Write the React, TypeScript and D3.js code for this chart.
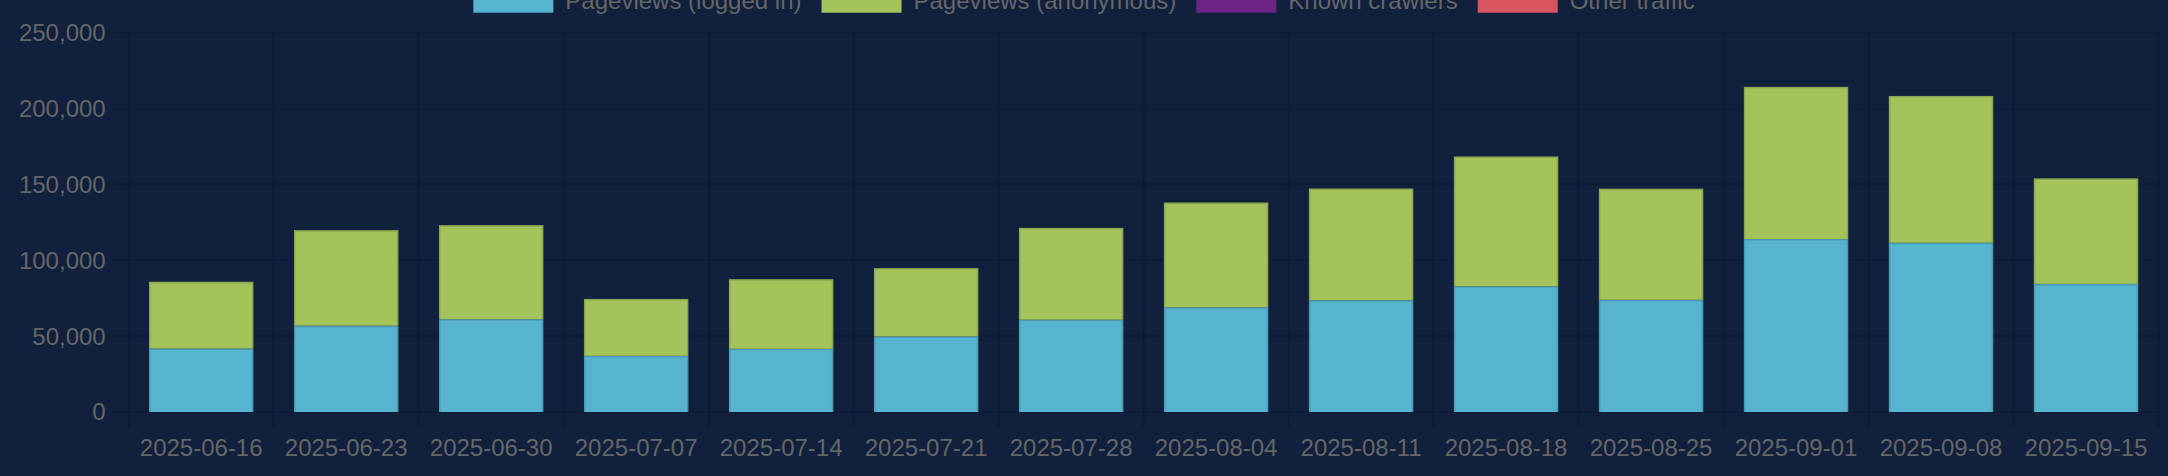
import React, { useEffect, useRef } from "react";
import * as d3 from "d3";

// weekly buckets
const weeks = [
  "2025-06-16", "2025-06-23", "2025-06-30", "2025-07-07", "2025-07-14",
  "2025-07-21", "2025-07-28", "2025-08-04", "2025-08-11", "2025-08-18",
  "2025-08-25", "2025-09-01", "2025-09-08", "2025-09-15",
];
const loggedIn = [41800, 56900, 61100, 37000, 41600, 49800, 60800, 69000, 73600, 82800, 73900, 113900, 111500, 84400];
const anonymous = [44000, 62900, 62000, 37500, 45900, 45000, 60500, 69000, 73600, 85500, 73200, 100300, 96700, 69500];
const crawlers = [0, 0, 0, 0, 0, 0, 0, 0, 0, 0, 0, 0, 0, 0];
const otherTraffic = [0, 0, 0, 0, 0, 0, 0, 0, 0, 0, 0, 0, 0, 0];
const yTicks = [0, 50000, 100000, 150000, 200000, 250000];

const seriesNames = ["Pageviews (logged in)", "Pageviews (anonymous)", "Known crawlers", "Other traffic"];
const seriesColors = ["#57b4cf", "#a4c35a", "#6b2587", "#d9565f"];

const App: React.FC = () => {
  const svgRef = useRef<SVGSVGElement | null>(null);

  useEffect(() => {
    const svg = d3.select(svgRef.current);
    svg.selectAll("*").remove();

    const w = 2168;
    const h = 476;
    const m = { top: 32.5, right: 9.5, bottom: 64, left: 128.7 };
    const fontSize = 24;
    const font = "'Liberation Sans', Arial, Helvetica, sans-serif";
    const grid = "rgba(0,0,0,0.13)";
    const textColor = "#666";

    svg.append("rect").attr("width", w).attr("height", h).attr("fill", "#10203d");

    const x = d3.scaleBand().domain(weeks).range([m.left, w - m.right]).paddingInner(0).paddingOuter(0);
    const y = d3.scaleLinear().domain([0, 250000]).range([h - m.bottom, m.top]);

    // bar = 0.9 * 0.8 of the category (chart.js style)
    const barW = x.bandwidth() * 0.72;

    // horizontal grid + ticks
    svg.append("g")
      .selectAll("line")
      .data(yTicks)
      .enter()
      .append("line")
      .attr("x1", m.left - 16)
      .attr("x2", w - m.right)
      .attr("y1", d => y(d))
      .attr("y2", d => y(d))
      .attr("stroke", grid)
      .attr("stroke-width", 2);

    // vertical grid on category edges
    const edges = weeks.map(d => x(d)!).concat([w - m.right]);
    svg.append("g")
      .selectAll("line")
      .data(edges)
      .enter()
      .append("line")
      .attr("x1", d => d)
      .attr("x2", d => d)
      .attr("y1", m.top)
      .attr("y2", h - m.bottom + 15)
      .attr("stroke", grid)
      .attr("stroke-width", 2);

    // y labels
    svg.append("g")
      .selectAll("text")
      .data(yTicks)
      .enter()
      .append("text")
      .attr("x", m.left - 23)
      .attr("y", d => y(d))
      .attr("dy", "0.35em")
      .attr("text-anchor", "end")
      .attr("fill", textColor)
      .style("font-family", font)
      .style("font-size", `${fontSize}px`)
      .text(d => d3.format(",")(d));

    // x labels
    svg.append("g")
      .selectAll("text")
      .data(weeks)
      .enter()
      .append("text")
      .attr("x", d => x(d)! + x.bandwidth() / 2)
      .attr("y", 456)
      .attr("text-anchor", "middle")
      .attr("fill", textColor)
      .style("font-family", font)
      .style("font-size", `${fontSize}px`)
      .text(d => d);

    // stacked bars
    const rows = weeks.map((wk, i) => ({
      week: wk,
      s0: loggedIn[i],
      s1: anonymous[i],
      s2: crawlers[i],
      s3: otherTraffic[i],
    }));
    const stack = d3.stack<any>().keys(["s0", "s1", "s2", "s3"])(rows);

    stack.forEach((layer, li) => {
      const g = svg.append("g");
      layer.forEach(seg => {
        const v0 = seg[0];
        const v1 = seg[1];
        if (v1 - v0 <= 0) return;
        const bx = x(seg.data.week)! + (x.bandwidth() - barW) / 2;
        const top = y(v1);
        const bottom = y(v0);
        g.append("rect")
          .attr("x", bx)
          .attr("y", top)
          .attr("width", barW)
          .attr("height", bottom - top)
          .attr("fill", seriesColors[li]);
        // border, bottom skipped
        g.append("path")
          .attr("d", `M${bx + 0.75},${bottom} V${top + 0.75} H${bx + barW - 0.75} V${bottom}`)
          .attr("fill", "none")
          .attr("stroke", "rgba(0,0,0,0.14)")
          .attr("stroke-width", 1.5);
      });
    });

    // legend, centered on top (cut at the image edge like the source)
    const boxW = 80;
    const boxH = 24;
    const gap = fontSize / 2;
    const itemPad = 20;
    const legend = svg.append("g");
    const widths: number[] = seriesNames.map(name => {
      const t = legend.append("text")
        .style("font-family", font)
        .style("font-size", `${fontSize}px`)
        .text(name);
      const len = (t.node() as SVGTextElement).getComputedTextLength();
      t.remove();
      return boxW + gap + len;
    });
    const total = d3.sum(widths) + itemPad * (widths.length - 1);
    let cx = (w - total) / 2;
    const boxTop = -11.3;
    seriesNames.forEach((name, i) => {
      legend.append("rect")
        .attr("x", cx)
        .attr("y", boxTop)
        .attr("width", boxW)
        .attr("height", boxH)
        .attr("fill", seriesColors[i]);
      legend.append("text")
        .attr("x", cx + boxW + gap)
        .attr("y", boxTop + boxH / 2)
        .attr("dy", "0.35em")
        .attr("fill", textColor)
        .style("font-family", font)
        .style("font-size", `${fontSize}px`)
        .text(name);
      cx += widths[i] + itemPad;
    });
  }, []);

  return (
    <div style={{ position: "absolute", left: 0, top: 0, width: 2168, height: 476 }}>
      <svg ref={svgRef} width={2168} height={476} style={{ display: "block" }}></svg>
    </div>
  );
};

export default App;
